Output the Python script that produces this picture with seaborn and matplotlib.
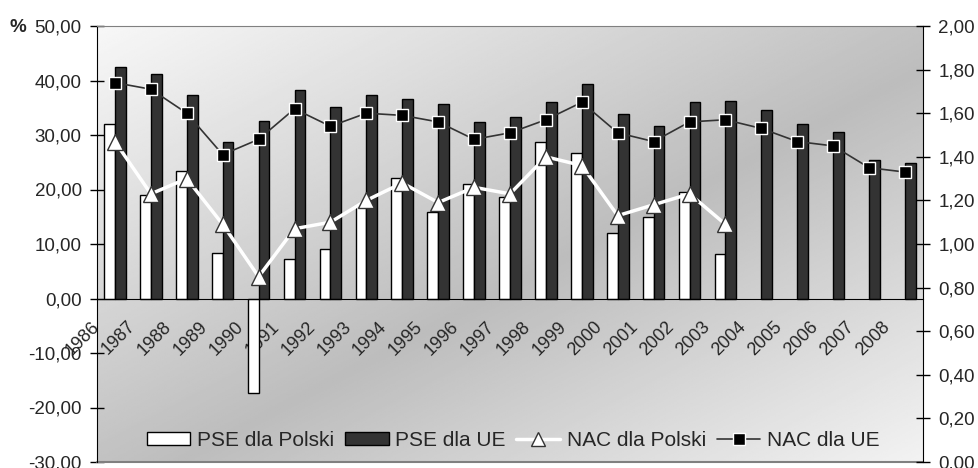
import numpy as np
import pandas as pd
import seaborn as sns
import matplotlib
matplotlib.use("Agg")
import matplotlib.pyplot as plt
from matplotlib.patches import Patch
from matplotlib.lines import Line2D
from matplotlib.ticker import FuncFormatter, MultipleLocator

# --------------------
# Data
# --------------------
years = [str(y) for y in range(1986, 2009)]
pse_pl = [32.1, 18.9, 23.4, 8.3, -17.4, 7.2, 9.0, 17.0, 22.1, 15.9, 21.0, 18.7,
          28.8, 26.7, 12.0, 15.0, 19.5, 8.1]
pse_ue = [42.4, 41.2, 37.3, 28.8, 32.5, 38.2, 35.1, 37.3, 36.6, 35.7, 32.4, 33.3,
          36.0, 39.3, 33.9, 31.6, 36.0, 36.3, 34.5, 32.1, 30.5, 25.5, 24.9]
nac_pl = [1.47, 1.23, 1.30, 1.09, 0.85, 1.07, 1.10, 1.20, 1.28, 1.19, 1.26, 1.23,
          1.40, 1.36, 1.13, 1.18, 1.23, 1.09]
nac_ue = [1.74, 1.71, 1.60, 1.41, 1.48, 1.62, 1.54, 1.60, 1.59, 1.56, 1.48, 1.51,
          1.57, 1.65, 1.51, 1.47, 1.56, 1.57, 1.53, 1.47, 1.45, 1.35, 1.33]

bars = pd.concat([
    pd.DataFrame({"rok": years[:len(pse_pl)], "PSE": pse_pl, "seria": "PSE dla Polski"}),
    pd.DataFrame({"rok": years, "PSE": pse_ue, "seria": "PSE dla UE"}),
])

sns.set_style("white")
plt.rcParams["font.family"] = ["Liberation Sans", "DejaVu Sans"]

fig = plt.figure(figsize=(9.79, 4.68), dpi=100)
ax = fig.add_axes([97 / 979, 1 - 462 / 468, 826 / 979, 436 / 468])

# gradient background of the plot area
gx, gy = np.meshgrid(np.linspace(0, 1, 300), np.linspace(0, 1, 300))
t = (gx + gy) / 2
shade = np.interp(t, [0, 0.55, 1], [0.97, 0.74, 0.95])
ax.imshow(shade, cmap="gray", vmin=0, vmax=1, extent=[0, 1, 0, 1],
          transform=ax.transAxes, aspect="auto", zorder=0, interpolation="bilinear")

# --------------------
# Bars (left axis)
# --------------------
dark = "#333333"
sns.barplot(data=bars, x="rok", y="PSE", hue="seria", order=years,
            hue_order=["PSE dla Polski", "PSE dla UE"],
            palette={"PSE dla Polski": "white", "PSE dla UE": dark},
            width=0.6, edgecolor="black", linewidth=1, errorbar=None,
            legend=False, ax=ax, zorder=2)

ax.set_xlim(-0.5, len(years) - 0.5)
ax.set_ylim(-30, 50)
ax.yaxis.set_major_locator(MultipleLocator(10))
ax.yaxis.set_major_formatter(FuncFormatter(lambda v, p: f"{v:.2f}".replace(".", ",")))
ax.set_xlabel("")
ax.set_ylabel("")

ax.spines["bottom"].set_position(("data", 0))
ax.spines["bottom"].set_color("black")
ax.spines["left"].set_color("black")
ax.spines["top"].set_color("#808080")
ax.spines["right"].set_visible(False)
ax.axhline(-30, color="#808080", lw=1.5, clip_on=False, zorder=1)

idx = np.arange(len(years))
ax.set_xticks(idx - 0.33, labels=years, rotation=45, ha="right")
ax.set_xticks(idx[:-1] + 0.5, minor=True)
ax.tick_params(axis="x", which="major", length=0, pad=14, labelsize=13)
ax.tick_params(axis="x", which="minor", direction="inout", length=12, width=1, color="black")
ax.tick_params(axis="y", direction="inout", length=10, width=1, color="black",
               pad=6, labelsize=13.5, left=True)

# --------------------
# Lines (right axis)
# --------------------
ax2 = ax.twinx()
sns.lineplot(x=idx[:len(nac_pl)], y=nac_pl, color="white", lw=2.5, marker="^",
             markersize=11, markerfacecolor="white", markeredgecolor=dark,
             markeredgewidth=1, ax=ax2, zorder=4)
sns.lineplot(x=idx, y=nac_ue, color=dark, lw=1.2, marker="s", markersize=8,
             markerfacecolor="black", markeredgecolor="white",
             markeredgewidth=1, ax=ax2, zorder=5)
ax2.set_ylim(0, 2)
ax2.yaxis.set_major_locator(MultipleLocator(0.2))
ax2.yaxis.set_major_formatter(FuncFormatter(lambda v, p: f"{v:.2f}".replace(".", ",")))
ax2.tick_params(axis="y", direction="inout", length=10, width=1, color="black",
                pad=6, labelsize=13.5, right=True)
for s in ["left", "top", "bottom"]:
    ax2.spines[s].set_visible(False)
ax2.spines["right"].set_color("black")
ax2.set_xlim(-0.5, len(years) - 0.5)

handles = [
    Patch(facecolor="white", edgecolor="black", label="PSE dla Polski"),
    Patch(facecolor=dark, edgecolor="black", label="PSE dla UE"),
    Line2D([], [], color="white", lw=2.5, marker="^", markersize=10,
           markerfacecolor="white", markeredgecolor=dark, label="NAC dla Polski"),
    Line2D([], [], color=dark, lw=1.2, marker="s", markersize=8,
           markerfacecolor="black", markeredgecolor="white", label="NAC dla UE"),
]
ax2.legend(handles=handles, loc="center", bbox_to_anchor=(0.504, 0.05), ncol=4,
           frameon=False, fontsize=15, handlelength=2.1, handleheight=0.55,
           handletextpad=0.33, columnspacing=0.5)

fig.text(10 / 979, 1 - 27 / 468, "%", fontsize=13.5, fontweight="bold", va="center")

fig.savefig("out.png", dpi=100)
